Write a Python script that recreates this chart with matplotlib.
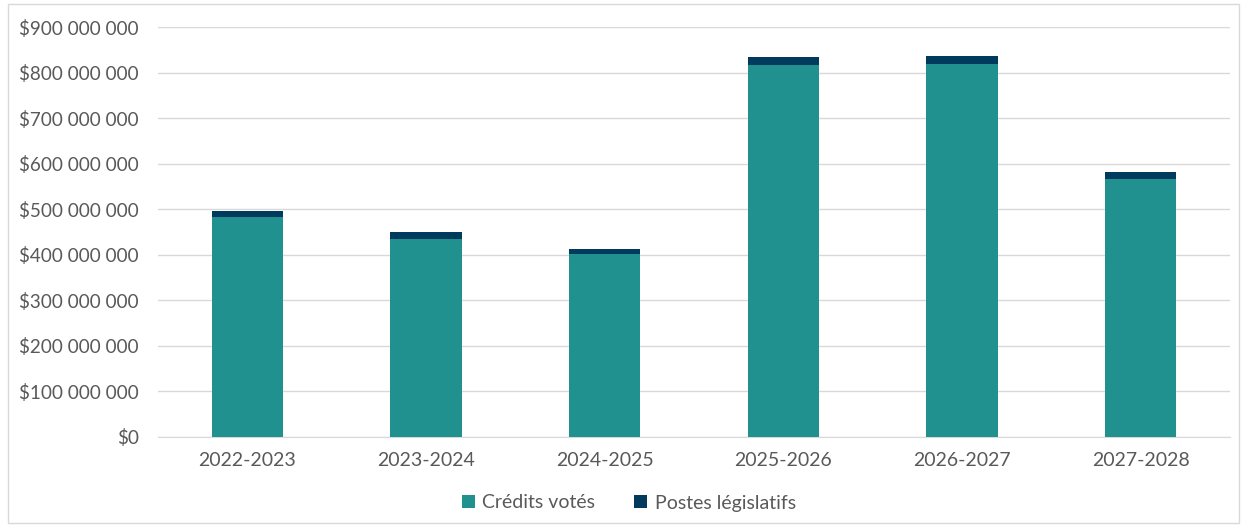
import matplotlib
matplotlib.use("Agg")
import matplotlib.pyplot as plt
from matplotlib.ticker import FuncFormatter
from matplotlib.patches import Rectangle

categories = ["2022-2023", "2023-2024", "2024-2025", "2025-2026", "2026-2027", "2027-2028"]
credits_votes = [483.5e6, 435e6, 401.5e6, 816e6, 818e6, 566e6]
postes_legislatifs = [13.5e6, 14e6, 10.5e6, 18e6, 19e6, 16e6]
series_names = ["Crédits votés", "Postes législatifs"]

teal = "#21918F"
navy = "#003A5D"
gray = "#595959"

plt.rcParams['font.family'] = ['Lato', 'DejaVu Sans']

fig = plt.figure(figsize=(12.43, 5.25), dpi=100)
ax = fig.add_axes([158/1243, 88/525, (1230-158)/1243, (437-27)/525])

x = range(len(categories))
ax.bar(x, credits_votes, width=0.4, color=teal, linewidth=0, label=series_names[0], zorder=3)
ax.bar(x, postes_legislatifs, width=0.4, bottom=credits_votes, color=navy, linewidth=0, label=series_names[1], zorder=3)

ax.set_xlim(-0.5, len(categories) - 0.5)
ax.set_ylim(0, 900e6)
ax.set_yticks([i * 100e6 for i in range(10)])

def fmt(v, pos):
    n = int(round(v))
    if n == 0:
        return "$0"
    s = f"{n:,}".replace(",", " ")
    return "$" + s

ax.yaxis.set_major_formatter(FuncFormatter(fmt))
ax.set_xticks(list(x))
ax.set_xticklabels(categories)
ax.tick_params(axis="both", length=0, colors=gray, labelsize=14)
ax.tick_params(axis="y", labelsize=13.6, pad=14)
ax.tick_params(axis="x", pad=11)

ax.grid(axis="y", color="#D9D9D9", linewidth=1, zorder=0)
for s in ["top", "right", "left"]:
    ax.spines[s].set_visible(False)
ax.spines["bottom"].set_color("#D9D9D9")

leg = fig.legend(loc="center", bbox_to_anchor=(629/1243, 1 - 503/525), ncol=2, frameon=False,
                 fontsize=14, handlelength=0.65, handleheight=0.65, handletextpad=0.4, columnspacing=2.0)
for t in leg.get_texts():
    t.set_color(gray)

fig.patches.append(Rectangle((8/1243, 2/525), 1 - 12/1243, 1 - 6/525, transform=fig.transFigure,
                             fill=False, edgecolor="#D9D9D9", linewidth=1))

fig.savefig("out.png", dpi=100)
